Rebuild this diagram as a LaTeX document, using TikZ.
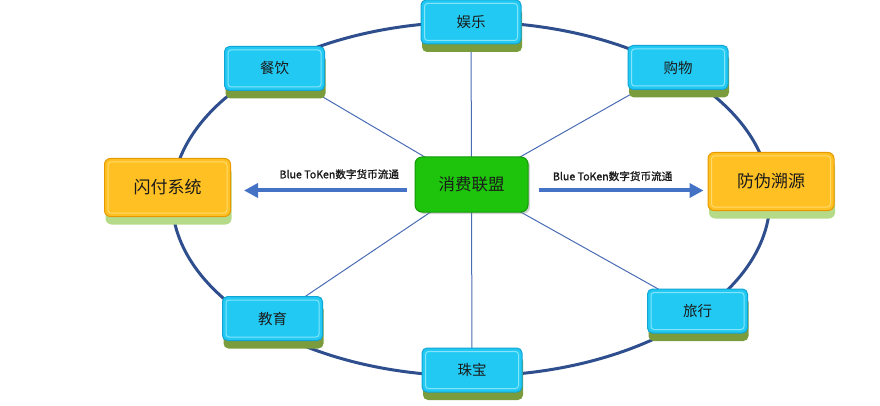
\documentclass[tikz,border=0pt]{standalone}
\usepackage{fontspec}
\newfontfamily\cjk{Noto Sans CJK SC}
\newfontfamily\cjkheavy[FakeBold=1.2]{Noto Sans CJK SC}
\usetikzlibrary{shadows,backgrounds,arrows.meta,calc}

\definecolor{ringblue}{HTML}{2E4E8E}
\definecolor{spokeblue}{HTML}{4A6CB5}
\definecolor{flowblue}{HTML}{4472C4}
\definecolor{cyanfill}{HTML}{22CAF3}
\definecolor{cyanedge}{HTML}{12A4D4}
\definecolor{cyanline}{HTML}{86E4FA}
\definecolor{olivebase}{HTML}{7A9C3C}
\definecolor{goldfill}{HTML}{FFC023}
\definecolor{goldedge}{HTML}{E69A00}
\definecolor{goldline}{HTML}{FFDA6E}
\definecolor{lightbase}{HTML}{B5DA88}
\definecolor{hubfill}{HTML}{1EC40C}
\definecolor{hubedge}{HTML}{149A08}
\definecolor{inkdark}{HTML}{1A1A1A}

\begin{document}
\begin{tikzpicture}[
  x=1pt, y=-1pt,
  innerline/.style={path picture={\draw[#1, line width=1pt, rounded corners=3pt]
    ($(path picture bounding box.south west)+(3.5pt,3.5pt)$) rectangle
    ($(path picture bounding box.north east)+(-3.5pt,-3.5pt)$);}},
  sector/.style={rectangle, rounded corners=5pt, draw=cyanedge, line width=1pt, fill=cyanfill,
    minimum width=100pt, minimum height=44pt, text=inkdark, font=\cjk\fontsize{14.5}{16}\selectfont,
    general shadow={fill=olivebase, shadow yshift=-8pt, shadow xshift=1pt}, innerline=cyanline},
  target/.style={rectangle, rounded corners=6pt, draw=goldedge, line width=1pt, fill=goldfill,
    minimum width=126pt, minimum height=58pt, text=inkdark, font=\cjk\fontsize{17}{19}\selectfont,
    general shadow={fill=lightbase, shadow yshift=-8pt, shadow xshift=1pt}, innerline=goldline},
  hub/.style={rectangle, rounded corners=7pt, draw=hubedge, line width=1pt, fill=hubfill,
    minimum width=113pt, minimum height=55pt, text=inkdark, font=\cjk\fontsize{16.5}{18}\selectfont,
    drop shadow={opacity=0.35, shadow xshift=2pt, shadow yshift=-2pt}},
  spoke/.style={spokeblue, line width=1pt},
  flow/.style={flowblue, line width=4pt, -{Triangle[length=14pt, width=14pt]}},
  flowlabel/.style={font=\cjkheavy\fontsize{10.6}{12}\selectfont, text=inkdark},
]
\useasboundingbox (0,0) rectangle (880,406);

% === Alliance hub and the two outlets ===
\node[hub] (alliance) at (471.5, 184.5) {消费联盟};
\node[target] (flashpay) at (167.5, 187.5) {闪付系统};
\node[target] (trace) at (771, 181.5) {防伪溯源};

% === Consumption sectors round the ring ===
\node[sector] (fun) at (471, 22) {娱乐};
\node[sector] (food) at (274.5, 68.5) {餐饮};
\node[sector] (shop) at (678, 67.5) {购物};
\node[sector] (edu) at (272.5, 318.5) {教育};
\node[sector] (travel) at (697.5, 311) {旅行};
\node[sector] (jewel) at (472, 370) {珠宝};

% === Ring and spokes behind the boxes ===
\begin{scope}[on background layer]
  \draw[ringblue, line width=3pt] (471, 199) ellipse [x radius=299, y radius=177];
  \foreach \s in {fun, food, shop, edu, travel, jewel}
    \draw[spoke] (alliance.center) -- (\s.center);
\end{scope}

% === Token flow arrows ===
\draw[flow, shorten <=8pt, shorten >=13pt] ([yshift=-6pt]alliance.west) -- ([yshift=-6pt]alliance.west -| flashpay.east)
  node[flowlabel, pos=0.41, above=6pt] (leftlbl) {Blue ToKen数字货币流通};
\draw[flow, shorten <=10pt, shorten >=4pt] ([yshift=-6pt]alliance.east) -- ([yshift=-6pt]alliance.east -| trace.west)
  node[flowlabel, pos=0.47, above=4pt] (rightlbl) {Blue ToKen数字货币流通};

\end{tikzpicture}
\end{document}
